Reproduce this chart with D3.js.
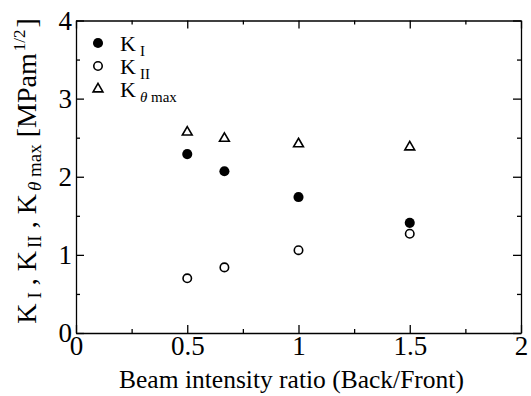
<!DOCTYPE html>
<html>
<head>
<meta charset="utf-8">
<script src="https://cdn.jsdelivr.net/npm/d3@7"></script>
<style>
  body { margin: 0; background: #fff; }
  svg, svg text { font-family: "Liberation Serif", "Times New Roman", serif; }
</style>
</head>
<body>
<div id="chart"></div>
<script>
// data
const ratio = [0.5, 0.667, 1, 1.5];
const kI = [2.29, 2.07, 1.74, 1.41];
const kII = [0.70, 0.84, 1.06, 1.27];
const kThetaMax = [2.57, 2.49, 2.42, 2.38];
const xTicks = [0, 0.5, 1, 1.5, 2];
const yTicks = [0, 1, 2, 3, 4];
const xMinor = [0.25, 0.75, 1.25, 1.75];
const yMinor = [0.5, 1.5, 2.5, 3.5];

const width = 531, height = 396;
const margin = {top: 20.5, right: 10, bottom: 63, left: 76};

const svg = d3.select("#chart").append("svg")
  .attr("width", width)
  .attr("height", height);

const x = d3.scaleLinear().domain([0, 2]).range([margin.left, width - margin.right]);
const y = d3.scaleLinear().domain([0, 4]).range([height - margin.bottom, margin.top]);

const fmt = d => String(d);

function styleAxis(g) {
  g.attr("font-family", null);
  g.selectAll("path, line").attr("stroke", "#000").attr("stroke-width", 1.3);
  g.selectAll("text").attr("fill", "#000");
}

// bottom
svg.append("g")
  .attr("transform", "translate(0," + y(0) + ")")
  .call(d3.axisBottom(x).tickValues(xTicks).tickSize(-8).tickSizeOuter(0).tickPadding(3).tickFormat(fmt))
  .attr("font-size", 27)
  .call(styleAxis);
svg.append("g")
  .attr("transform", "translate(0," + y(0) + ")")
  .call(d3.axisBottom(x).tickValues(xMinor).tickSize(-4).tickFormat(""))
  .call(g => g.select(".domain").remove())
  .call(styleAxis);

// top
svg.append("g")
  .attr("transform", "translate(0," + y(4) + ")")
  .call(d3.axisTop(x).tickValues(xTicks).tickSize(-8).tickSizeOuter(0).tickFormat(""))
  .call(styleAxis);
svg.append("g")
  .attr("transform", "translate(0," + y(4) + ")")
  .call(d3.axisTop(x).tickValues(xMinor).tickSize(-4).tickFormat(""))
  .call(g => g.select(".domain").remove())
  .call(styleAxis);

// left
svg.append("g")
  .attr("transform", "translate(" + x(0) + ",0)")
  .call(d3.axisLeft(y).tickValues(yTicks).tickSize(-8).tickSizeOuter(0).tickPadding(4).tickFormat(fmt))
  .attr("font-size", 27)
  .call(styleAxis);
svg.append("g")
  .attr("transform", "translate(" + x(0) + ",0)")
  .call(d3.axisLeft(y).tickValues(yMinor).tickSize(-4).tickFormat(""))
  .call(g => g.select(".domain").remove())
  .call(styleAxis);

// right
svg.append("g")
  .attr("transform", "translate(" + x(2) + ",0)")
  .call(d3.axisRight(y).tickValues(yTicks).tickSize(-8).tickSizeOuter(0).tickFormat(""))
  .call(styleAxis);
svg.append("g")
  .attr("transform", "translate(" + x(2) + ",0)")
  .call(d3.axisRight(y).tickValues(yMinor).tickSize(-4).tickFormat(""))
  .call(g => g.select(".domain").remove())
  .call(styleAxis);

// markers
const circleFilled = d3.symbol(d3.symbolCircle, 80);
const circleOpen = d3.symbol(d3.symbolCircle, 56);
const triangle = d3.symbol(d3.symbolTriangle, 42);

const pts = svg.append("g");
pts.selectAll(".kI").data(ratio).join("path")
  .attr("class", "kI")
  .attr("d", circleFilled)
  .attr("transform", (d, i) => "translate(" + x(d) + "," + y(kI[i]) + ")")
  .attr("fill", "#000");
pts.selectAll(".kII").data(ratio).join("path")
  .attr("class", "kII")
  .attr("d", circleOpen)
  .attr("transform", (d, i) => "translate(" + x(d) + "," + y(kII[i]) + ")")
  .attr("fill", "#fff").attr("stroke", "#000").attr("stroke-width", 1.6);
pts.selectAll(".kT").data(ratio).join("path")
  .attr("class", "kT")
  .attr("d", triangle)
  .attr("transform", (d, i) => "translate(" + x(d) + "," + y(kThetaMax[i]) + ")")
  .attr("fill", "#fff").attr("stroke", "#000").attr("stroke-width", 1.6);

// legend
const legend = [
  {sym: circleFilled, fill: "#000", stroke: "none", sub: "I", italic: false},
  {sym: circleOpen, fill: "#fff", stroke: "#000", sub: "II", italic: false},
  {sym: triangle, fill: "#fff", stroke: "#000", sub: "θ max", italic: true}
];
const lg = svg.append("g").attr("transform", "translate(98,43)");
legend.forEach((l, i) => {
  const row = lg.append("g").attr("transform", "translate(0," + (i * 23) + ")");
  row.append("path").attr("d", l.sym).attr("fill", l.fill)
    .attr("stroke", l.stroke).attr("stroke-width", 1.6);
  const t = row.append("text").attr("x", 22).attr("y", 8).attr("font-size", 22).attr("fill", "#000");
  t.append("tspan").text("K");
  if (l.italic) {
    t.append("tspan").attr("dx", 4).attr("dy", 5).attr("font-size", 15).attr("font-style", "italic").text("θ");
    t.append("tspan").attr("font-size", 15).text(" max");
  } else {
    t.append("tspan").attr("dx", 4).attr("dy", 5).attr("font-size", 15).text(l.sub);
  }
});

// x title
svg.append("text")
  .attr("x", (x(0) + x(2)) / 2 - 7)
  .attr("y", 388)
  .attr("text-anchor", "middle")
  .attr("font-size", 25.5)
  .attr("fill", "#000")
  .text("Beam intensity ratio (Back/Front)");

// y title
const yt = svg.append("text")
  .attr("transform", "translate(36," + 171 + ") rotate(-90)")
  .attr("text-anchor", "middle")
  .attr("font-size", 28)
  .attr("fill", "#000");
yt.append("tspan").text("K");
yt.append("tspan").attr("dx", 5).attr("dy", 5).attr("font-size", 19).text("I");
yt.append("tspan").attr("dy", -5).text(" , K");
yt.append("tspan").attr("dx", 3).attr("dy", 5).attr("font-size", 19).text("II");
yt.append("tspan").attr("dy", -5).text(" , K");
yt.append("tspan").attr("dx", 3).attr("dy", 5).attr("font-size", 19).attr("font-style", "italic").text("θ");
yt.append("tspan").attr("font-size", 19).text(" max");
yt.append("tspan").attr("dy", -5).text(" [MPam");
yt.append("tspan").attr("dx", 2).attr("dy", -11).attr("font-size", 17).text("1/2");
yt.append("tspan").attr("dx", 2).attr("dy", 11).text("]");
</script>
</body>
</html>
